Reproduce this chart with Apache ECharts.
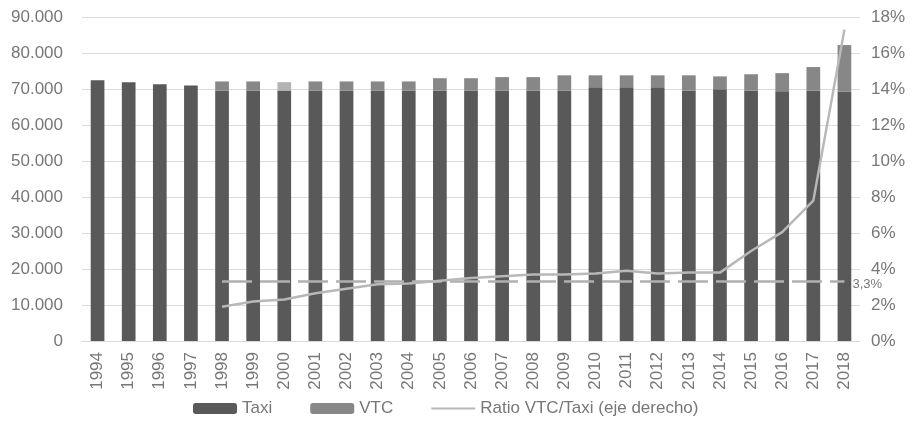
<!DOCTYPE html>
<html>
<head>
<meta charset="utf-8">
<script src="https://cdn.jsdelivr.net/npm/echarts@6/dist/echarts.min.js"></script>
<style>
html,body{margin:0;padding:0;background:#fff;}
#chart{width:911px;height:429px;}
</style>
</head>
<body>
<div id="chart"></div>
<script>
const years = ['1994','1995','1996','1997','1998','1999','2000','2001','2002','2003','2004','2005','2006','2007','2008','2009','2010','2011','2012','2013','2014','2015','2016','2017','2018'];
const taxi = [72400,71900,71300,71000,69600,69600,69600,69600,69600,69600,69600,69600,69600,69600,69600,69600,70500,70500,70500,69600,69900,69600,69400,69600,69300];
const vtc = [0,0,0,0,2500,2500,2300,2500,2500,2500,2500,3400,3400,3700,3700,4200,3300,3300,3300,4200,3600,4500,5000,6500,12900];
const ratio = [null,null,null,null,1.9,2.2,2.3,2.65,2.9,3.15,3.2,3.35,3.5,3.6,3.7,3.7,3.75,3.9,3.75,3.8,3.8,5.0,6.05,7.8,17.3];
const avgRatio = [null,null,null,null,3.3,3.3,3.3,3.3,3.3,3.3,3.3,3.3,3.3,3.3,3.3,3.3,3.3,3.3,3.3,3.3,3.3,3.3,3.3,3.3,3.3];
const avgLabel = '3,3%';

const FONT = 'Liberation Sans';
const TXT = '#777777';
const chart = echarts.init(document.getElementById('chart'), null, {renderer:'canvas'});
const fmtThousands = v => v === 0 ? '0' : String(v).replace(/\B(?=(\d{3})+(?!\d))/g, '.');

chart.setOption({
  animation:false,
  textStyle:{fontFamily:FONT},
  grid:{left:82, right:51, top:17, bottom:88, containLabel:false},
  legend:{
    data:['Taxi','VTC',{name:'Ratio VTC/Taxi (eje derecho)', icon:'path://M0,0L44,0L44,2.2L0,2.2Z'}],
    left:188, top:395, itemWidth:44, itemHeight:11, itemGap:38,
    textStyle:{fontFamily:FONT, fontSize:17, color:TXT}
  },
  xAxis:{
    type:'category', data:years,
    axisLine:{lineStyle:{color:'#d9d9d9', width:1}},
    axisTick:{show:false},
    axisLabel:{rotate:90, fontSize:17, color:TXT, margin:11, fontFamily:FONT}
  },
  yAxis:[
    {type:'value', min:0, max:90000, interval:10000,
     axisLine:{show:false}, axisTick:{show:false},
     splitLine:{lineStyle:{color:'#dcdcdc', width:1}},
     axisLabel:{fontSize:17, color:TXT, margin:19, fontFamily:FONT, formatter:fmtThousands}},
    {type:'value', min:0, max:18, interval:2,
     axisLine:{show:false}, axisTick:{show:false}, splitLine:{show:false},
     axisLabel:{fontSize:17, color:TXT, margin:11, fontFamily:FONT, formatter:'{value}%'}}
  ],
  series:[
    {name:'Taxi', type:'bar', stack:'a', barWidth:'44%', data:taxi,
     itemStyle:{color:'#595959'}},
    {name:'VTC', type:'bar', stack:'a', barWidth:'44%',
     data:vtc.map((v,i)=> years[i]==='2000' ? {value:v, itemStyle:{color:'#b3b3b3'}} : v),
     itemStyle:{color:'#878787'}},
    {name:'Ratio VTC/Taxi (eje derecho)', type:'line', yAxisIndex:1, data:ratio,
     symbol:'none', showSymbol:false, connectNulls:false,
     lineStyle:{color:'#b8b8b8', width:2.5}, itemStyle:{color:'#b8b8b8'}, z:5},
    {name:'media', type:'line', yAxisIndex:1, data:avgRatio,
     symbol:'none', showSymbol:false,
     lineStyle:{color:'#b0b0b0', width:2.5, type:[30,8]}, z:4,
     endLabel:{show:true, formatter:avgLabel, fontSize:13, color:TXT, fontFamily:FONT, distance:8, offset:[0,3]}}
  ]
});
</script>
</body>
</html>
